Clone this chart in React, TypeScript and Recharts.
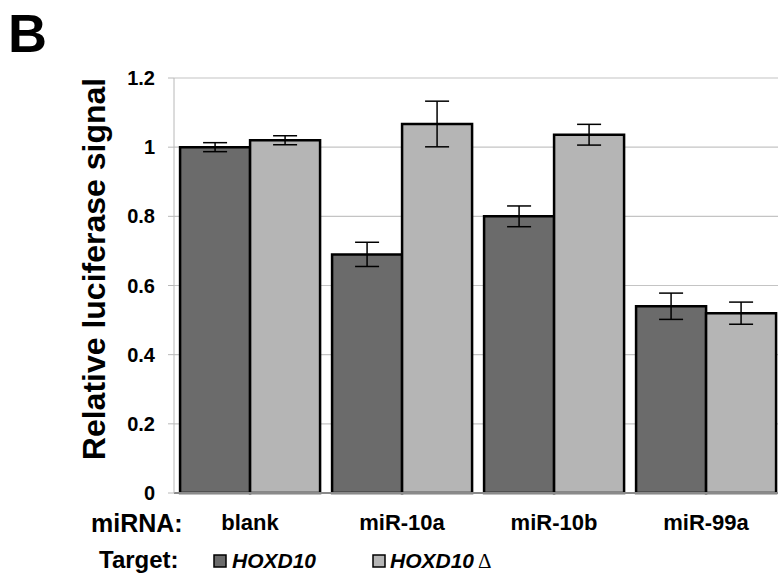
import React from 'react'
import {
  BarChart, Bar, XAxis, YAxis, CartesianGrid, ErrorBar,
} from 'recharts'

const categories = ['blank', 'miR-10a', 'miR-10b', 'miR-99a']
const hoxd10 = [1.0, 0.69, 0.80, 0.54]
const hoxd10Err = [0.013, 0.035, 0.03, 0.038]
const hoxd10Delta = [1.02, 1.067, 1.036, 0.52]
const hoxd10DeltaErr = [0.013, 0.066, 0.03, 0.032]
const yTicks = [0, 0.2, 0.4, 0.6, 0.8, 1, 1.2]
const boundaryTicks = [0, 1, 2, 3, 4]

const DARK = '#6b6b6b'
const LIGHT = '#b5b5b5'
const FONT = '"Liberation Sans", Arial, sans-serif'

const data = categories.map((c, i) => ({
  name: c,
  a: hoxd10[i], aErr: hoxd10Err[i],
  b: hoxd10Delta[i], bErr: hoxd10DeltaErr[i],
}))

// titles, row labels and legend drawn on top of the chart
function Labels() {
  return (
    <svg width={778} height={575} style={{ position: 'absolute', left: 0, top: 0, pointerEvents: 'none' }}
      fontFamily={FONT} fontWeight="bold" fill="#000">
      <text x={8} y={52} fontSize={54}>B</text>
      <text x={105} y={269} fontSize={32} textAnchor="middle" transform="rotate(-90 105 269)">
        Relative luciferase signal
      </text>
      <text x={91} y={532} fontSize={25}>miRNA:</text>
      <text x={99} y={568} fontSize={24}>Target:</text>
      <rect x={214} y={555} width={12} height={12} fill={DARK} stroke="#000" strokeWidth={1.5} />
      <text x={232} y={568} fontSize={21} fontStyle="italic">HOXD10</text>
      <rect x={373} y={555} width={12} height={12} fill={LIGHT} stroke="#000" strokeWidth={1.5} />
      <text x={390} y={568} fontSize={21} fontStyle="italic">HOXD10</text>
      <text x={478} y={568} fontSize={21} fontWeight="normal" fontFamily='"Liberation Serif", serif'>Δ</text>
    </svg>
  )
}

export default function App() {
  return (
    <div style={{ position: 'absolute', left: 0, top: 0, width: 778, height: 575, background: '#fff', overflow: 'hidden' }}>
      <BarChart
        width={782}
        height={575}
        data={data}
        margin={{ top: 78, right: 0, left: 0, bottom: 0 }}
        barCategoryGap="4%"
        barGap={0}
      >
        <CartesianGrid vertical={false} stroke="#c4c4c4" strokeWidth={1.2} />
        <XAxis
          dataKey="name"
          height={82}
          axisLine={{ stroke: '#8a8a8a', strokeWidth: 2 }}
          tickLine={false}
          interval={0}
          tickSize={6}
          tickMargin={15}
          tick={{ fontSize: 22, fontWeight: 'bold', fill: '#000', fontFamily: FONT }}
        />
        <XAxis
          xAxisId="edges"
          type="number"
          domain={[0, 4]}
          ticks={boundaryTicks}
          height={0}
          axisLine={false}
          tick={false}
          tickLine={{ stroke: '#b0b0b0' }}
          tickSize={7}
        />
        <YAxis
          width={174}
          domain={[0, 1.2]}
          ticks={yTicks}
          axisLine={{ stroke: '#b8b8b8' }}
          tickLine={{ stroke: '#b8b8b8' }}
          tickSize={6}
          tickMargin={13}
          tick={{ fontSize: 20, fontWeight: 'bold', fill: '#000', fontFamily: FONT }}
          tickFormatter={(v: number) => String(Number(v.toFixed(1)))}
        />
        <Bar dataKey="a" fill={DARK} stroke="#000" strokeWidth={2.5} isAnimationActive={false}>
          <ErrorBar dataKey="aErr" width={12} stroke="#000" strokeWidth={1.5} />
        </Bar>
        <Bar dataKey="b" fill={LIGHT} stroke="#000" strokeWidth={2.5} isAnimationActive={false}>
          <ErrorBar dataKey="bErr" width={12} stroke="#000" strokeWidth={1.5} />
        </Bar>
      </BarChart>
      <Labels />
    </div>
  )
}
